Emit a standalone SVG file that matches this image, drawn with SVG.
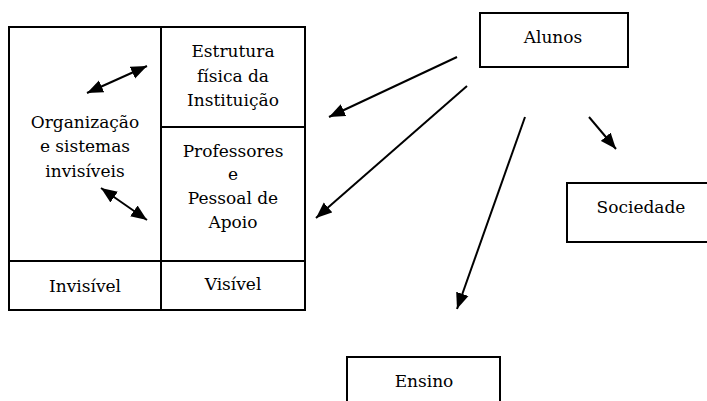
<svg xmlns="http://www.w3.org/2000/svg" width="707" height="401" viewBox="0 0 707 401">
<style>
.box{fill:#fff;stroke:#000;stroke-width:2}
.ln{fill:none;stroke:#000;stroke-width:2}
.t{font-family:'DejaVu Serif','Liberation Serif',serif;font-size:17px;fill:#000;text-anchor:middle}
.c{fill:none;stroke:#000;stroke-width:2}
</style>
<defs>
<marker id="ah" markerUnits="userSpaceOnUse" markerWidth="17" markerHeight="14" refX="16" refY="7" orient="auto-start-reverse" viewBox="0 0 17 14">
<path d="M0,0.5 L16,7 L0,13.5 z" fill="#000"/>
</marker>
</defs>
<g id="main">
<rect class="box" x="9" y="27" width="296" height="283"/>
<line class="ln" x1="161" y1="27" x2="161" y2="310"/>
<line class="ln" x1="161" y1="127" x2="305" y2="127"/>
<line class="ln" x1="9" y1="261" x2="305" y2="261"/>
</g>
<g id="organizacao">
<text class="t" x="85" y="128">Organização</text>
<text class="t" x="85" y="152">e sistemas</text>
<text class="t" x="85" y="177">invisíveis</text>
</g>
<g id="estrutura">
<text class="t" x="233" y="57">Estrutura</text>
<text class="t" x="233" y="82">física da</text>
<text class="t" x="233" y="106">Instituição</text>
</g>
<g id="professores">
<text class="t" x="233" y="157">Professores</text>
<text class="t" x="233" y="180">e</text>
<text class="t" x="233" y="204">Pessoal de</text>
<text class="t" x="233" y="228">Apoio</text>
</g>
<g id="invisivel">
<text class="t" x="85" y="292">Invisível</text>
</g>
<g id="visivel">
<text class="t" x="233" y="290">Visível</text>
</g>
<g id="alunos">
<rect class="box" x="480" y="13" width="148" height="54"/>
<text class="t" x="553" y="43">Alunos</text>
</g>
<g id="sociedade">
<rect class="box" x="567" y="183" width="150" height="59"/>
<text class="t" x="641" y="213">Sociedade</text>
</g>
<g id="ensino">
<rect class="box" x="347" y="357" width="153" height="60"/>
<text class="t" x="424" y="387">Ensino</text>
</g>
<g id="connectors">
<line class="c" x1="457" y1="57" x2="329" y2="117" marker-end="url(#ah)"/>
<line class="c" x1="467" y1="86" x2="316" y2="218" marker-end="url(#ah)"/>
<line class="c" x1="525" y1="117" x2="457" y2="309" marker-end="url(#ah)"/>
<line class="c" x1="589" y1="117" x2="616" y2="149" marker-end="url(#ah)"/>
<line class="c" x1="87" y1="93" x2="147" y2="66" marker-start="url(#ah)" marker-end="url(#ah)"/>
<line class="c" x1="101" y1="188" x2="147" y2="220" marker-start="url(#ah)" marker-end="url(#ah)"/>
</g>
</svg>
